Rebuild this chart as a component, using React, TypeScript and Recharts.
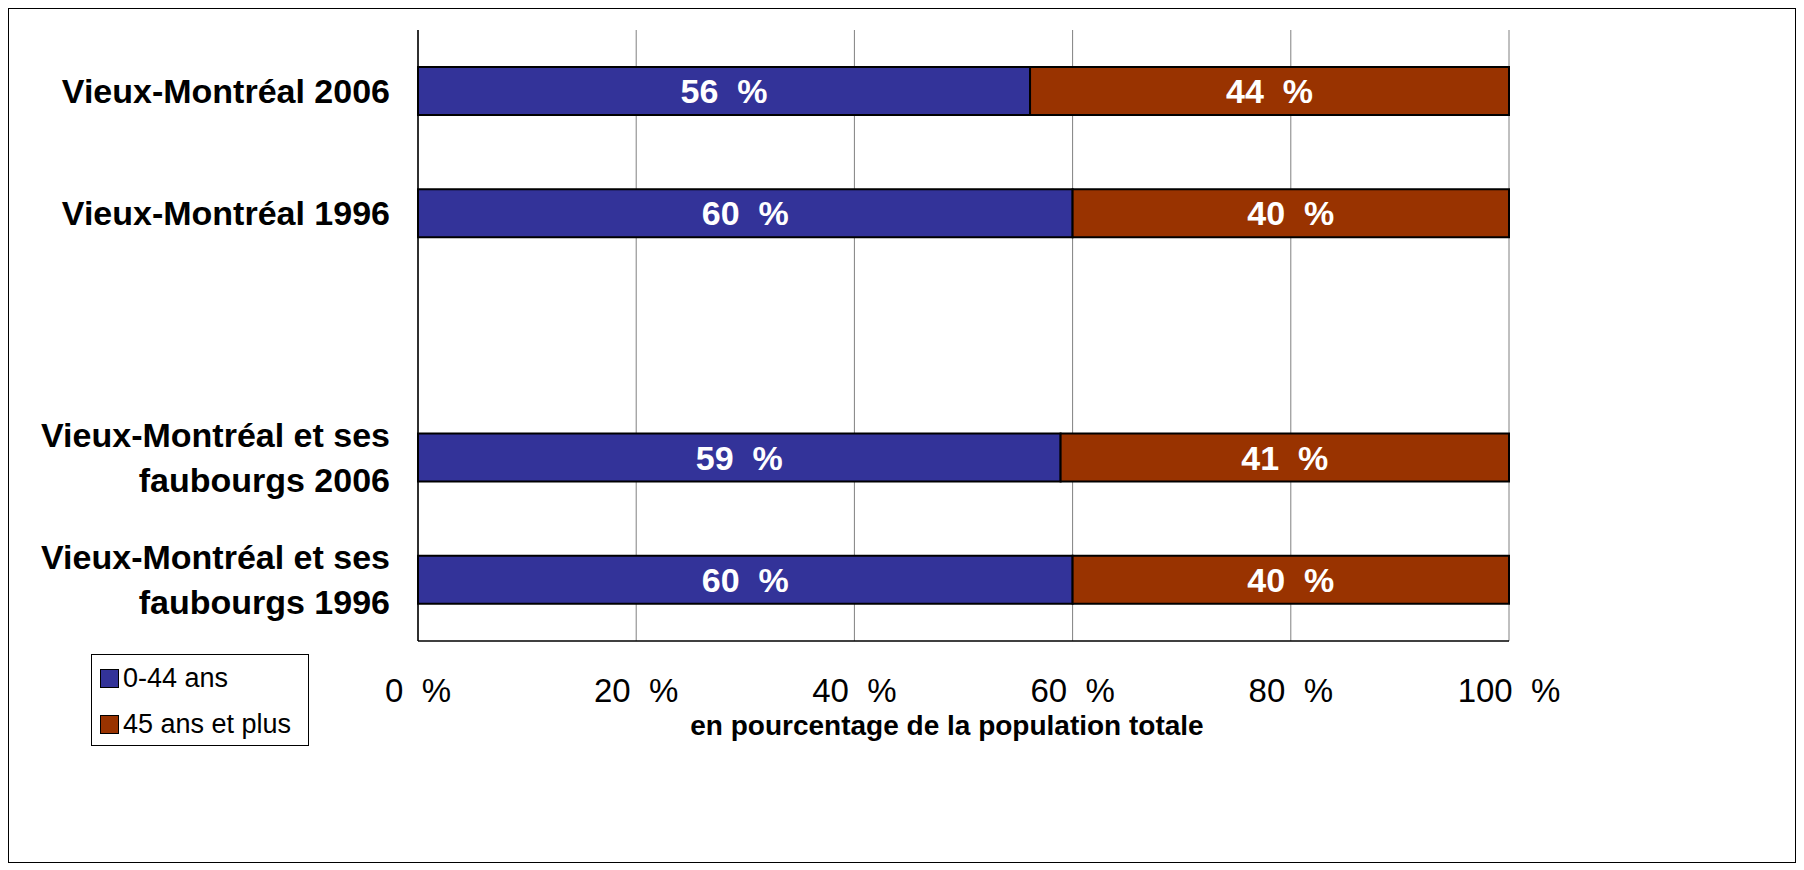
import React from "react";
import { ComposedChart, Bar, XAxis, YAxis, CartesianGrid, LabelList } from "recharts";

const categories = ["Vieux-Montréal 2006", "Vieux-Montréal 1996", "", "Vieux-Montréal et ses|faubourgs 2006", "Vieux-Montréal et ses|faubourgs 1996"];
const young = [56.1, 60, null, 58.9, 60];
const old = [43.9, 40, null, 41.1, 40];
const xTicks = [0, 20, 40, 60, 80, 100];

const data = categories.map((c, i) => ({ name: c, young: young[i], old: old[i] }));

const FONT = "Liberation Sans, Arial, sans-serif";

const YTick = (props: any) => {
  const { x, y, payload } = props;
  const lines = String(payload.value).split("|").filter((s) => s);
  const gap = 45;
  const start = -((lines.length - 1) * gap) / 2;
  return (
    <g>
      {lines.map((l, i) => (
        <text key={i} x={x - 20} y={y + start + i * gap} textAnchor="end" dominantBaseline="central" fontFamily={FONT} fontWeight="bold" fontSize={34} fill="#000">
          {l}
        </text>
      ))}
    </g>
  );
};

const XTick = (props: any) => {
  const { x, y, payload } = props;
  return (
    <text x={x} y={y + 41} textAnchor="middle" dominantBaseline="central" fontFamily={FONT} fontSize={33} fill="#000">
      {payload.value + "\u00a0\u00a0%"}
    </text>
  );
};

const BarLabel = (props: any) => {
  const { x, y, width, height, value } = props;
  if (value == null) return null;
  return (
    <text x={x + width / 2} y={y + height / 2} textAnchor="middle" dominantBaseline="central" fontFamily={FONT} fontWeight="bold" fontSize={34} fill="#fff">
      {Math.round(Number(value)) + "\u00a0\u00a0%"}
    </text>
  );
};

export default function App() {
  return (
    <div style={{ position: "relative", width: 1788, height: 855, border: "1px solid #000", boxSizing: "border-box", background: "#fff" }}>
      <ComposedChart width={1786} height={853} data={data} layout="vertical" margin={{ top: 21, right: 286, bottom: 161, left: 0 }}>
        <CartesianGrid vertical horizontal={false} stroke="#808080" />
        <XAxis type="number" domain={[0, 100]} ticks={xTicks} tick={<XTick />} axisLine={{ stroke: "#000", strokeWidth: 1.5 }} tickLine={false} height={60} />
        <YAxis type="category" dataKey="name" width={409} tick={<YTick />} axisLine={{ stroke: "#000", strokeWidth: 1.5 }} tickLine={false} interval={0} />
        <Bar dataKey="young" stackId="a" fill="#333399" stroke="#000" strokeWidth={2} barSize={48} isAnimationActive={false}>
          <LabelList dataKey="young" content={<BarLabel />} />
        </Bar>
        <Bar dataKey="old" stackId="a" fill="#993300" stroke="#000" strokeWidth={2} barSize={48} isAnimationActive={false}>
          <LabelList dataKey="old" content={<BarLabel />} />
        </Bar>
      </ComposedChart>
      <div style={{ position: "absolute", left: 0, right: 320, top: 700, textAlign: "center", paddingLeft: 410, fontFamily: FONT, fontWeight: "bold", fontSize: 28, lineHeight: "33px" }}>
        en pourcentage de la population totale
      </div>
      <div style={{ position: "absolute", left: 82, top: 645, width: 218, height: 92, border: "1px solid #000", boxSizing: "border-box", fontFamily: FONT, fontSize: 27, lineHeight: "32px" }}>
        <div style={{ position: "absolute", left: 8, top: 7, display: "flex", alignItems: "center", whiteSpace: "nowrap" }}>
          <span style={{ width: 17, height: 17, background: "#333399", border: "1px solid #000", marginRight: 4 }} />0-44 ans
        </div>
        <div style={{ position: "absolute", left: 8, top: 53, display: "flex", alignItems: "center", whiteSpace: "nowrap" }}>
          <span style={{ width: 17, height: 17, background: "#993300", border: "1px solid #000", marginRight: 4 }} />45 ans et plus
        </div>
      </div>
    </div>
  );
}
